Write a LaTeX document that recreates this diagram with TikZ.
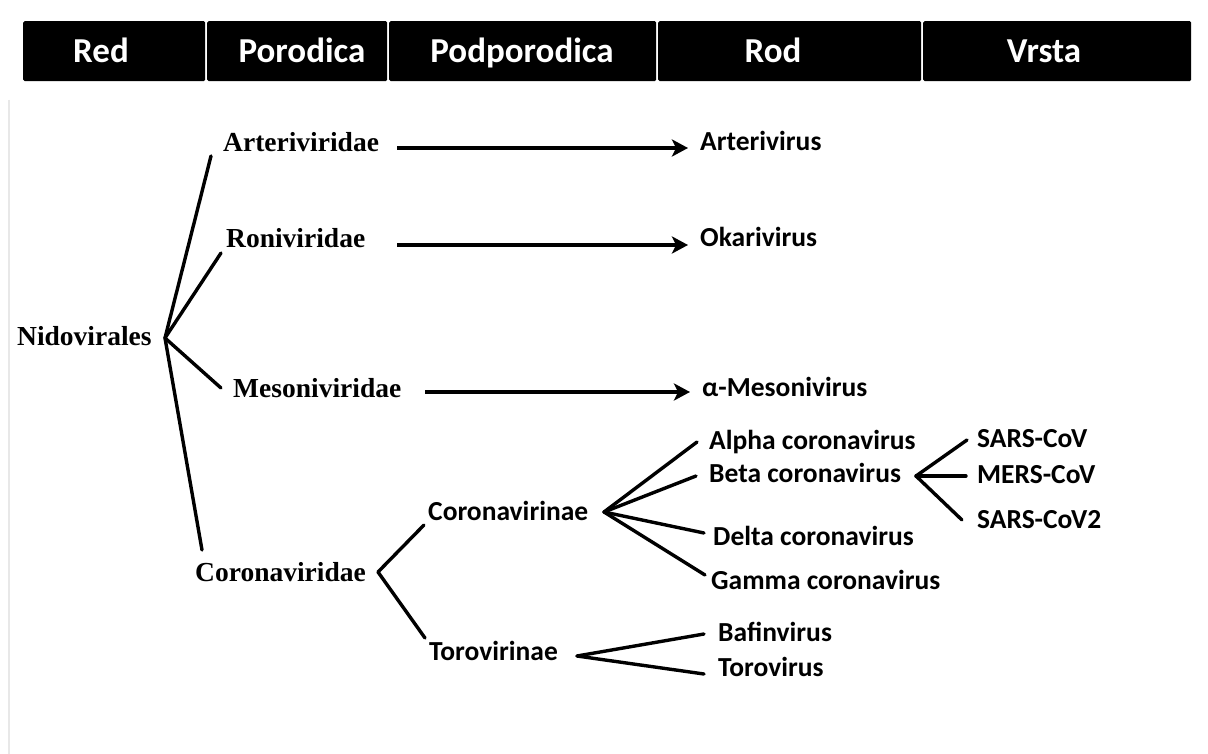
\documentclass[tikz,border=0pt]{standalone}
\usepackage{fontspec}
\setmainfont{Liberation Serif}
\newfontfamily\carl{Carlito}
\usetikzlibrary{arrows.meta}
\begin{document}
\begin{tikzpicture}[x=1pt,y=-1pt,
  hdrbox/.style={fill=black, draw=none, rounded corners=1.5pt, inner sep=0, anchor=north west, minimum height=60pt},
  hdrtxt/.style={text=white, font=\carl\bfseries\fontsize{35}{38}\selectfont, inner sep=0, anchor=base},
  fam/.style={font=\bfseries\fontsize{27.5}{30}\selectfont, inner sep=0, anchor=base west},
  gen/.style={font=\carl\bfseries\fontsize{27.5}{30}\selectfont, inner sep=0, anchor=base west},
  br/.style={line width=3.4pt, line cap=round},
  arr/.style={line width=3.4pt, -{Stealth[length=16pt,width=17pt,inset=4pt]}}
]
\useasboundingbox[fill=white] (0,0) rectangle (1208,754);
\draw[gray!18, line width=1.5pt] (9,100) -- (9,754);

% header
\node[hdrbox, minimum width=182pt] (hRed) at (23,21) {};
\node[hdrbox, minimum width=180pt] (hPor) at (207,21) {};
\node[hdrbox, minimum width=267pt] (hPod) at (389,21) {};
\node[hdrbox, minimum width=263pt] (hRod) at (658,21) {};
\node[hdrbox, minimum width=268pt] (hVrs) at (923,21) {};
\node[hdrtxt] (tRed) at (101,63) {Red};
\node[hdrtxt] (tPor) at (302,63) {Porodica};
\node[hdrtxt] (tPod) at (522,63) {Podporodica};
\node[hdrtxt] (tRod) at (773,63) {Rod};
\node[hdrtxt] (tVrs) at (1044,63) {Vrsta};

% labels
\node[fam] (nido) at (17,345) {Nidovirales};
\node[fam] (arte) at (223,152) {Arteriviridae};
\node[fam] (roni) at (226,248) {Roniviridae};
\node[fam] (meso) at (233,397) {Mesoniviridae};
\node[fam] (coro) at (195,581) {Coronaviridae};

\node[gen] (arv) at (700,151) {Arterivirus};
\node[gen] (okv) at (700,247) {Okarivirus};
\node[gen] (amv) at (702,396) {α-Mesonivirus};
\node[gen] (cvn) at (428,520) {Coronavirinae};
\node[gen] (tvn) at (429,660) {Torovirinae};
\node[gen] (alpha) at (709,449) {Alpha coronavirus};
\node[gen] (beta) at (709,482) {Beta coronavirus};
\node[gen] (delta) at (713,545) {Delta coronavirus};
\node[gen] (gamma) at (711,589) {Gamma coronavirus};
\node[gen] (bafin) at (718,641) {Bafinvirus};
\node[gen] (torov) at (718,676) {Torovirus};
\node[gen] (sars) at (977,447) {SARS-CoV};
\node[gen] (mers) at (977,483) {MERS-CoV};
\node[gen] (sars2) at (977,528) {SARS-CoV2};

% branch coordinates
\coordinate (nidoB) at (165,338);
\coordinate (arteE) at (211,156);
\coordinate (roniE) at (221,253);
\coordinate (mesoE) at (221,388);
\coordinate (coroE) at (202,550);
\coordinate (cvB) at (378,572);
\coordinate (cvU) at (424,525);
\coordinate (cvD) at (425,638);
\coordinate (cnB) at (604,512);
\coordinate (alE) at (697,442);
\coordinate (beE) at (696,476);
\coordinate (deE) at (704,533);
\coordinate (gaE) at (705,575);
\coordinate (tvB) at (577,656);
\coordinate (baE) at (704,634);
\coordinate (toE) at (704,674);
\coordinate (bB) at (916,476);
\coordinate (s1E) at (967,440);
\coordinate (s2E) at (966,476);
\coordinate (s3E) at (962,520);
\coordinate (a1S) at (397,148);
\coordinate (a1E) at (688,148);
\coordinate (a2S) at (397,245);
\coordinate (a2E) at (688,245);
\coordinate (a3S) at (425,392);
\coordinate (a3E) at (690,392);

\draw[br] (nidoB) -- (arteE);
\draw[br] (nidoB) -- (roniE);
\draw[br] (nidoB) -- (mesoE);
\draw[br] (nidoB) -- (coroE);
\draw[br] (cvB) -- (cvU);
\draw[br] (cvB) -- (cvD);
\draw[br] (cnB) -- (alE);
\draw[br] (cnB) -- (beE);
\draw[br] (cnB) -- (deE);
\draw[br] (cnB) -- (gaE);
\draw[br] (tvB) -- (baE);
\draw[br] (tvB) -- (toE);
\draw[br] (bB) -- (s1E);
\draw[br] (bB) -- (s2E);
\draw[br] (bB) -- (s3E);

\draw[arr] (a1S) -- (a1E);
\draw[arr] (a2S) -- (a2E);
\draw[arr] (a3S) -- (a3E);
\end{tikzpicture}
\end{document}
